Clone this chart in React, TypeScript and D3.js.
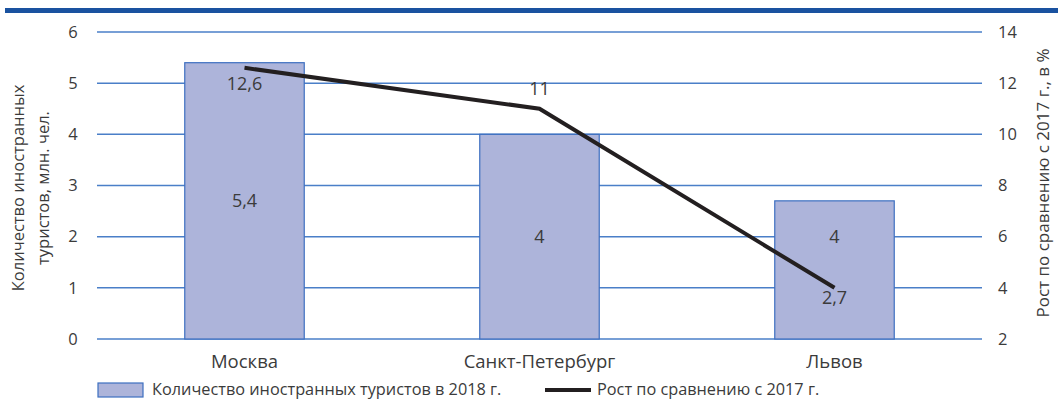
import React from "react";
import * as d3 from "d3";

const WIDTH = 1058;
const HEIGHT = 401;

const cities = ["Москва", "Санкт-Петербург", "Львов"];
const tourists = [5.4, 4, 2.7];
const growth = [12.6, 11, 4];
// labels as printed in the source picture (values there are swapped for Львов)
const barLabels = ["5,4", "4", "4"];
const barLabelValues = [5.4, 4, 4];
const lineLabels = ["12,6", "11", "2,7"];
const lineLabelOffsets = [16, -20, 10];
const leftTicks = [0, 1, 2, 3, 4, 5, 6];
const rightTicks = [2, 4, 6, 8, 10, 12, 14];

const FONT = "'Open Sans', 'Noto Sans', sans-serif";
const TEXT = "#3b3b3b";
const BAR_FILL = "#adb4da";
const BAR_STROKE = "#3d6fc0";
const LINE = "#231f20";

export default function App() {
  const left = 97;
  const right = 982;
  const top = 32;
  const bottom = 339;

  const x = d3.scaleBand().domain(cities).range([left, right]);
  const y = d3.scaleLinear().domain([0, 6]).range([bottom, top]);
  const y2 = d3.scaleLinear().domain([2, 14]).range([bottom, top]);
  const barW = x.bandwidth() * 0.405;
  const cx = (c: string) => (x(c) as number) + x.bandwidth() / 2;

  const line = d3
    .line<number>()
    .x((_, i) => cx(cities[i]))
    .y((d) => y2(d));

  return (
    <svg
      width={WIDTH}
      height={HEIGHT}
      style={{ position: "absolute", left: 0, top: 0, fontFamily: FONT }}
    >
      <rect x={5} y={8} width={WIDTH - 5} height={5} fill="#1a52a0" />

      {leftTicks.map((t) => (
        <g key={t}>
          <line x1={left} x2={right} y1={y(t)} y2={y(t)} stroke="#4a7fc8" strokeWidth={1.5} />
          <text x={73} y={y(t)} dy="0.35em" textAnchor="middle" fontSize={16.5} fill={TEXT}>
            {t}
          </text>
        </g>
      ))}
      {rightTicks.map((t) => (
        <text key={t} x={998} y={y2(t)} dy="0.35em" fontSize={16.5} fill={TEXT}>
          {t}
        </text>
      ))}

      {cities.map((c, i) => (
        <g key={c}>
          <rect
            x={cx(c) - barW / 2}
            y={y(tourists[i])}
            width={barW}
            height={y(0) - y(tourists[i])}
            fill={BAR_FILL}
            stroke={BAR_STROKE}
            strokeWidth={1.2}
          />
          <text
            x={cx(c)}
            y={y(barLabelValues[i] / 2)}
            dy="0.35em"
            textAnchor="middle"
            fontSize={18}
            fill={TEXT}
          >
            {barLabels[i]}
          </text>
          <text x={cx(c)} y={362} dy="0.35em" textAnchor="middle" fontSize={18.5} fill={TEXT}>
            {c}
          </text>
        </g>
      ))}

      <path d={line(growth) || ""} fill="none" stroke={LINE} strokeWidth={4} />
      {cities.map((c, i) => (
        <text
          key={c}
          x={cx(c)}
          y={y2(growth[i]) + lineLabelOffsets[i]}
          dy="0.35em"
          textAnchor="middle"
          fontSize={18}
          fill={TEXT}
        >
          {lineLabels[i]}
        </text>
      ))}

      <text transform="translate(24,188) rotate(-90)" textAnchor="middle" fontSize={16.5} fill={TEXT}>
        <tspan x={0} dy={0}>Количество иностранных</tspan>
        <tspan x={0} dy={25}>туристов, млн. чел.</tspan>
      </text>
      <text transform="translate(1049,183) rotate(-90)" textAnchor="middle" fontSize={17} fill={TEXT}>
        Рост по сравнению с 2017 г., в %
      </text>

      <rect x={98} y={383} width={45} height={14} fill={BAR_FILL} stroke={BAR_STROKE} strokeWidth={1.2} />
      <text x={152} y={389} dy="0.35em" fontSize={16.3} fill={TEXT}>
        Количество иностранных туристов в 2018 г.
      </text>
      <line x1={545} x2={591} y1={390} y2={390} stroke={LINE} strokeWidth={4} />
      <text x={597} y={389} dy="0.35em" fontSize={16.3} fill={TEXT}>
        Рост по сравнению с 2017 г.
      </text>
    </svg>
  );
}
